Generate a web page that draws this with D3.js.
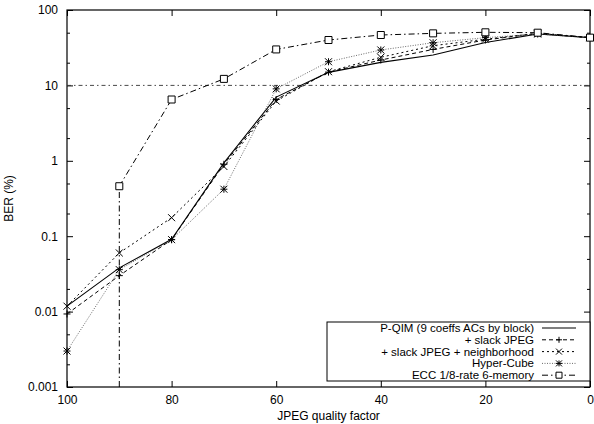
<!DOCTYPE html>
<html lang="en">
<head>
<meta charset="UTF-8">
<title>BER vs JPEG quality</title>
<script src="https://d3js.org/d3.v7.min.js"></script>
<style>
    body { margin: 0; background: #fff; font-family: "Liberation Sans", Arial, sans-serif; }
    svg { display: block; }
    .axis text { font-size: 12px; fill: #000; font-family: "Liberation Sans", Arial, sans-serif; }
    .axis path { display: none; }
    .axis line { stroke: #000; stroke-width: 1; }
</style>
</head>
<body>
<svg id="chart"></svg>
<script>
    const width = 594, height = 424;
    const margin = { top: 10, right: 4, bottom: 37, left: 67 };

    const quality = [100, 90, 80, 70, 60, 50, 40, 30, 20, 10, 0];
    const pqim = [0.0118, 0.038, 0.091, 0.94, 7.0, 14.9, 20.2, 25.3, 37, 48, 43];
    const slackJpeg = [0.0093, 0.030, 0.090, 0.90, 6.5, 15.0, 21.7, 30, 40, 49, 43];
    const slackNeigh = [0.0118, 0.060, 0.176, 0.84, 6.2, 15.2, 23.6, 33.6, 41, 49, 43];
    const hyperCube = [0.0030, 0.036, 0.090, 0.42, 9.0, 20.6, 29.5, 36.8, 43, 48, 43];
    const eccQuality = [90, 80, 70, 60, 50, 40, 30, 20, 10, 0];
    const ecc = [0.46, 6.5, 12.2, 30, 40, 46.6, 49, 50.6, 50, 43];

    const xTicks = [100, 80, 60, 40, 20, 0];
    const yTicks = [0.001, 0.01, 0.1, 1, 10, 100];
    const yMinor = [0.002, 0.005, 0.02, 0.05, 0.2, 0.5, 2, 5, 20, 50];
    const yLabels = ["0.001", "0.01", "0.1", "1", "10", "100"];
    const threshold = 10;
    const eccStart = 90;

    const series = [
        { name: "P-QIM (9 coeffs ACs by block)", xs: quality, ys: pqim, dash: null, width: 1.1, color: "#000", marker: null },
        { name: "+ slack JPEG", xs: quality, ys: slackJpeg, dash: "4,3", width: 1, color: "#000", marker: "plus" },
        { name: "+ slack JPEG + neighborhood", xs: quality, ys: slackNeigh, dash: "2,3", width: 1, color: "#000", marker: "cross" },
        { name: "Hyper-Cube", xs: quality, ys: hyperCube, dash: "1,1.5", width: 0.8, color: "#444", marker: "star" },
        { name: "ECC 1/8-rate 6-memory", xs: eccQuality, ys: ecc, dash: "6,3,1.5,3", width: 1, color: "#000", marker: "square" }
    ];

    const svg = d3.select("#chart").attr("width", width).attr("height", height);

    const x = d3.scaleLinear().domain([100, 0]).range([margin.left, width - margin.right]);
    const y = d3.scaleLog().domain([0.001, 100]).range([height - margin.bottom, margin.top]);

    // axes on all four sides, ticks pointing inward
    svg.append("g").attr("class", "axis")
        .attr("transform", `translate(0,${height - margin.bottom})`)
        .call(d3.axisBottom(x).tickValues(xTicks).tickFormat(d3.format("d")).tickSize(-6).tickPadding(8));
    svg.append("g").attr("class", "axis")
        .attr("transform", `translate(0,${margin.top})`)
        .call(d3.axisTop(x).tickValues(xTicks).tickFormat("").tickSize(-6));
    svg.append("g").attr("class", "axis")
        .attr("transform", `translate(${margin.left},0)`)
        .call(d3.axisLeft(y).tickValues(yTicks).tickFormat((d, i) => yLabels[i]).tickSize(-6).tickPadding(9));
    svg.append("g").attr("class", "axis")
        .attr("transform", `translate(${margin.left},0)`)
        .call(d3.axisLeft(y).tickValues(yMinor).tickFormat("").tickSize(-3));
    svg.append("g").attr("class", "axis")
        .attr("transform", `translate(${width - margin.right},0)`)
        .call(d3.axisRight(y).tickValues(yTicks).tickFormat("").tickSize(-6));
    svg.append("g").attr("class", "axis")
        .attr("transform", `translate(${width - margin.right},0)`)
        .call(d3.axisRight(y).tickValues(yMinor).tickFormat("").tickSize(-3));

    svg.append("rect")
        .attr("x", margin.left).attr("y", margin.top)
        .attr("width", width - margin.left - margin.right)
        .attr("height", height - margin.top - margin.bottom)
        .attr("fill", "none").attr("stroke", "#000").attr("stroke-width", 1.2);

    // reference lines
    svg.append("line")
        .attr("x1", x(100)).attr("x2", x(0))
        .attr("y1", y(threshold)).attr("y2", y(threshold))
        .attr("stroke", "#333").attr("stroke-width", 0.9).attr("stroke-dasharray", "4,3,1.5,3");
    svg.append("line")
        .attr("x1", x(eccStart)).attr("x2", x(eccStart))
        .attr("y1", y(0.001)).attr("y2", y(ecc[0]))
        .attr("stroke", "#000").attr("stroke-width", 1).attr("stroke-dasharray", "6,3,1.5,3");

    const markerPath = (type, cx, cy, r) => {
        const p = d3.path();
        if (type === "plus" || type === "star") {
            p.moveTo(cx - r, cy); p.lineTo(cx + r, cy);
            p.moveTo(cx, cy - r); p.lineTo(cx, cy + r);
        }
        if (type === "cross" || type === "star") {
            p.moveTo(cx - r, cy - r); p.lineTo(cx + r, cy + r);
            p.moveTo(cx - r, cy + r); p.lineTo(cx + r, cy - r);
        }
        if (type === "square") {
            p.rect(cx - r, cy - r, 2 * r, 2 * r);
        }
        return p.toString();
    };

    const line = d3.line().x(d => x(d[0])).y(d => y(d[1]));

    series.forEach(s => {
        const pts = s.xs.map((q, i) => [q, s.ys[i]]);
        svg.append("path")
            .datum(pts)
            .attr("d", line)
            .attr("fill", "none")
            .attr("stroke", s.color)
            .attr("stroke-width", s.width)
            .attr("stroke-dasharray", s.dash);
        if (s.marker) {
            svg.append("g").selectAll("path")
                .data(pts).enter().append("path")
                .attr("d", d => markerPath(s.marker, x(d[0]), y(d[1]), 3.5))
                .attr("fill", s.marker === "square" ? "#fff" : "none")
                .attr("stroke", "#000")
                .attr("stroke-width", 1);
        }
    });

    // legend
    const legend = svg.append("g");
    const lx = 327, ly = 322, lw = width - margin.right - lx, lh = 59;
    legend.append("rect")
        .attr("x", lx).attr("y", ly).attr("width", lw).attr("height", lh)
        .attr("fill", "#fff").attr("stroke", "#000").attr("stroke-width", 1);
    series.forEach((s, i) => {
        const cy = 328 + i * 11.8;
        legend.append("text")
            .attr("x", 534).attr("y", cy + 4)
            .attr("text-anchor", "end")
            .attr("font-size", 11.5)
            .text(s.name);
        legend.append("line")
            .attr("x1", 542).attr("x2", 576).attr("y1", cy).attr("y2", cy)
            .attr("stroke", s.color).attr("stroke-width", s.width)
            .attr("stroke-dasharray", s.dash);
        if (s.marker) {
            legend.append("path")
                .attr("d", markerPath(s.marker, 559, cy, 3))
                .attr("fill", s.marker === "square" ? "#fff" : "none")
                .attr("stroke", "#000").attr("stroke-width", 1);
        }
    });

    // axis titles
    svg.append("text")
        .attr("x", (x(100) + x(0)) / 2).attr("y", 420)
        .attr("text-anchor", "middle").attr("font-size", 12)
        .text("JPEG quality factor");
    svg.append("text")
        .attr("transform", `translate(13,${(y(0.001) + y(100)) / 2}) rotate(-90)`)
        .attr("text-anchor", "middle").attr("font-size", 12)
        .text("BER (%)");
</script>
</body>
</html>
